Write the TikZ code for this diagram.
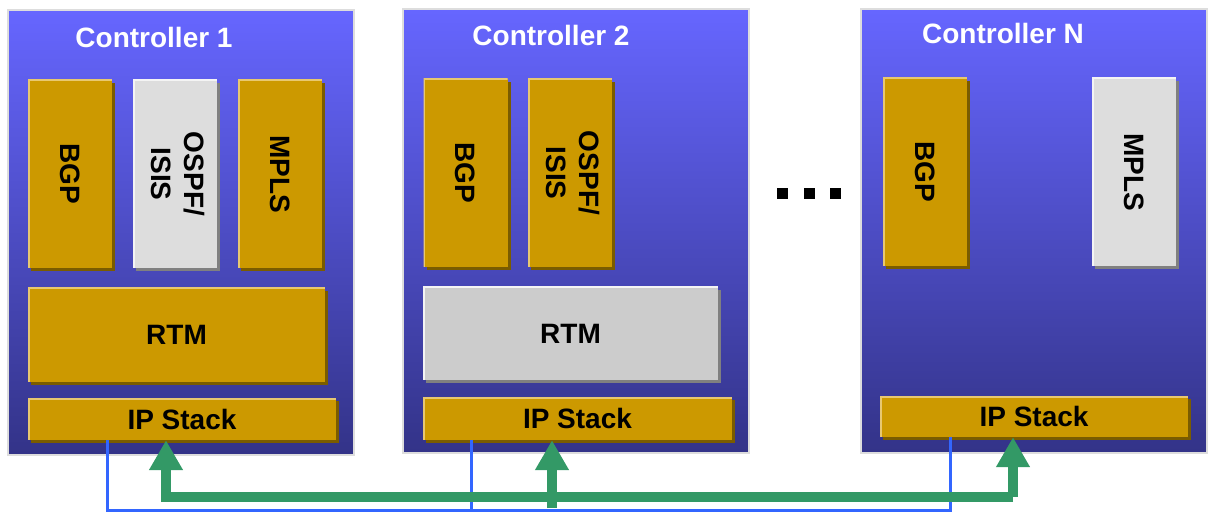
\documentclass[tikz,border=0pt]{standalone}
\usepackage{fontspec}
\setmainfont{Liberation Sans}
\usetikzlibrary{arrows.meta,shadows}
\definecolor{ctrltop}{RGB}{102,102,255}
\definecolor{ctrlbot}{RGB}{51,51,136}
\definecolor{ctrlrim}{RGB}{221,221,221}
\definecolor{gold}{RGB}{204,153,0}
\definecolor{golddark}{RGB}{122,92,0}
\definecolor{goldlight}{RGB}{232,200,112}
\definecolor{pale}{RGB}{221,221,221}
\definecolor{silver}{RGB}{204,204,204}
\definecolor{greydark}{RGB}{128,128,128}
\definecolor{greylight}{RGB}{244,244,244}
\definecolor{busblue}{RGB}{51,102,255}
\definecolor{linkgreen}{RGB}{51,153,102}
\def\vt#1{\rotatebox{-90}{#1}}
\tikzset{
  ctrl/.style={draw=ctrlrim, line width=2pt, top color=ctrltop, bottom color=ctrlbot,
    minimum width=346pt, minimum height=444pt, inner sep=0pt},
  title/.style={text=white, font=\bfseries\fontsize{28}{33}\selectfont},
  blk/.style n args={3}{fill=#1, inner sep=0pt, font=\bfseries\fontsize{28}{33}\selectfont,
    drop shadow={shadow xshift=3pt, shadow yshift=-3pt, fill=#2, opacity=1},
    path picture={\draw[#3, line width=3pt] (path picture bounding box.south west)
      -- (path picture bounding box.north west) -- (path picture bounding box.north east);}},
  gold blk/.style={blk={gold}{golddark}{goldlight}},
  pale blk/.style={blk={pale}{greydark}{greylight}},
  silver blk/.style={blk={silver}{greydark}{greylight}},
  vbox/.style={minimum width=84pt, minimum height=188pt},
  bus/.style={busblue, line width=3pt},
  link/.style={linkgreen, line width=10pt, line join=miter},
  tip/.style={-{Triangle[length=30pt,width=32pt]}}
}
\begin{document}
\begin{tikzpicture}[x=1pt, y=-1pt]
\useasboundingbox (0,0) rectangle (1208,513);
      \node [ctrl] at (181,232.5) (ctrl1) {};
       \node [ctrl] at (575.5,231) (ctrl2) {};
        \node [ctrl] at (1033.5,231) (ctrlN) {};
         \node [title] at (154,37) (t1) {Controller 1};
          \node [title] at (551,35) (t2) {Controller 2};
           \node [title] at (1003,33) (tN) {Controller N};
%
      \node [gold blk,vbox] at (70,174) (bgp1) {\vt{BGP}};
       \node [pale blk,vbox] at (175,174) (ospf1) {\vt{\begin{tabular}{@{}c@{}}OSPF/\\ISIS\end{tabular}}};
        \node [gold blk,vbox] at (280,174) (mpls1) {\vt{MPLS}};
         \node [gold blk,minimum width=297pt,minimum height=94pt] at (176.5,335) (rtm1) {RTM};
          \node [gold blk,minimum width=308pt,minimum height=42pt] at (182,419) (ip1) {IP Stack};
%
      \node [gold blk,vbox] at (465.5,173) (bgp2) {\vt{BGP}};
       \node [gold blk,vbox] at (570,173) (ospf2) {\vt{\begin{tabular}{@{}c@{}}OSPF/\\ISIS\end{tabular}}};
        \node [silver blk,minimum width=295pt,minimum height=93pt] at (570.5,333.5) (rtm2) {RTM};
         \node [gold blk,minimum width=309pt,minimum height=43pt] at (577.5,418.5) (ip2) {IP Stack};
%
      \node [gold blk,vbox] at (925,172) (bgpN) {\vt{BGP}};
       \node [pale blk,vbox] at (1134,172) (mplsN) {\vt{MPLS}};
        \node [gold blk,minimum width=308pt,minimum height=41pt] at (1034,416.5) (ipN) {IP Stack};
%
      \node [fill=black,inner sep=0pt,minimum size=11pt] at (782,194) (dot1) {};
       \node [fill=black,inner sep=0pt,minimum size=11pt] at (809,194) (dot2) {};
        \node [fill=black,inner sep=0pt,minimum size=11pt] at (835,194) (dot3) {};
%
\coordinate (b1) at (107,510);
\coordinate (b2) at (471,510);
\coordinate (bN) at (950,510);
\coordinate (g1) at (166,497);
\coordinate (g2) at (552,508);
\coordinate (gN) at (1013,497);
%
\draw[bus] (ip1.south -| b1) -- (b1) -- (bN) -- (ipN.south -| bN);
\draw[bus] (ip2.south -| b2) -- (b2);
\draw[link,tip] (gN) -- (ipN.south -| gN);
\draw[link,tip] (gN) -- (g1) -- (ip1.south -| g1);
\draw[link,tip] (g2) -- (ip2.south -| g2);

\end{tikzpicture}
\end{document}
